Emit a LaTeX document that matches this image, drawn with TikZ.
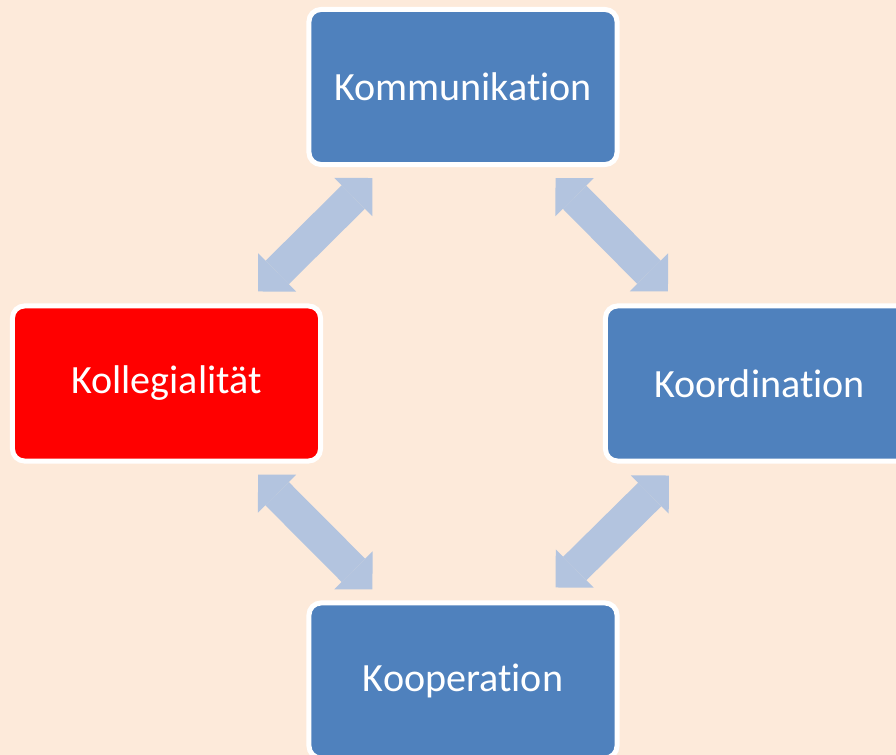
\documentclass[tikz,border=0pt]{standalone}
\usepackage{fontspec}
\setmainfont[Ligatures={NoCommon}]{Carlito}
\usepackage{tikz}
\usetikzlibrary{positioning, calc}
\usetikzlibrary{arrows.meta}
\definecolor{peach}{HTML}{FDEADA}
\definecolor{boxblue}{HTML}{4F81BD}
\definecolor{arrowblue}{HTML}{B3C4DF}
\tikzset{
  kbox/.style={rectangle, rounded corners=0.3cm, fill=boxblue, draw=white,
    line width=0.125cm, minimum width=7.7cm, minimum height=3.875cm,
    text=white, font=\fontsize{28.5pt}{34pt}\selectfont},
  blockarrow/.style={arrowblue, line width=0.825cm,
    {Triangle[width=1.35cm,length=0.675cm,line width=0pt]}-{Triangle[width=1.35cm,length=0.675cm,line width=0pt]}}
}
\begin{document}
\begin{tikzpicture}[x=0.025cm, y=-0.025cm]
                \clip (0,0) rectangle (896,755);
                \fill[peach] (0,0) rectangle (896,755);
                \node[kbox] (komm) at (463,87) {Kommunikation};
                \node[kbox, fill=red] (koll) at (166.5,383.5) {Kollegialität};
                \node[kbox] (koor) at (759.5,383.5) {Koordination};
                \node[kbox] (koop) at (463,680.5) {Kooperation};
                \coordinate (a1) at ($(komm.south west)+(66,11)$);
                \coordinate (a2) at ($(koll.north east)+(-65,-12)$);
                \coordinate (b1) at ($(komm.south east)+(-64,11)$);
                \coordinate (b2) at ($(koor.north west)+(65,-12)$);
                \coordinate (c1) at ($(koll.south east)+(-65,11)$);
                \coordinate (c2) at ($(koop.north west)+(66,-11)$);
                \coordinate (d1) at ($(koor.south west)+(66,12)$);
                \coordinate (d2) at ($(koop.north east)+(-64,-13)$);
                \draw[blockarrow] (a1) -- (a2);
                \draw[blockarrow] (b1) -- (b2);
                \draw[blockarrow] (c1) -- (c2);
                \draw[blockarrow] (d1) -- (d2);
\end{tikzpicture}
\end{document}
